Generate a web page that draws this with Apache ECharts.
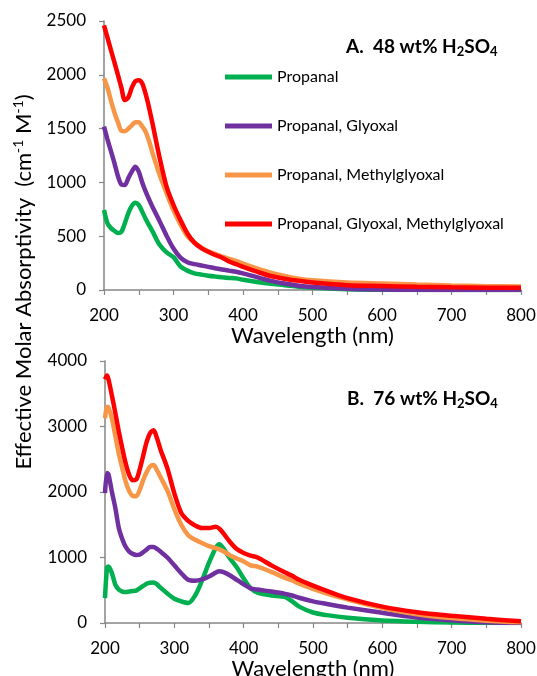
<!DOCTYPE html>
<html>
<head>
<meta charset="utf-8">
<title>Effective Molar Absorptivity</title>
<script src="https://cdn.jsdelivr.net/npm/echarts@6/dist/echarts.min.js"></script>
<style>
    html, body { margin: 0; padding: 0; background: #fff; }
    #chart { width: 537px; height: 676px; }
</style>
</head>
<body>
<div id="chart"></div>
<script>
// --- data ---
const seriesNames = ['Propanal', 'Propanal, Glyoxal', 'Propanal, Methylglyoxal', 'Propanal, Glyoxal, Methylglyoxal'];
const seriesColors = ['#00b050', '#7030a0', '#f79646', '#ff0000'];

// panel A: 48 wt% H2SO4
const wavelengthA = [200, 205, 210, 215, 220, 225, 230, 235, 240, 245, 250, 255, 260, 265, 270, 280, 290, 300, 310, 320,
    330, 340, 350, 360, 370, 380, 390, 400, 420, 440, 460, 480, 500, 550, 600, 650, 700, 750, 800];
const propanalA = [743, 620, 575, 550, 530, 540, 620, 715, 780, 810, 790, 728, 660, 600, 542, 420, 350, 305, 220, 180,
    155, 143, 133, 125, 118, 112, 108, 95, 75, 58, 45, 30, 22, 8, 2, 0, 0, 0, 0];
const glyoxalA = [1518, 1400, 1290, 1180, 1060, 980, 975, 1040, 1100, 1146, 1100, 1000, 914, 840, 770, 640, 505, 385, 300, 258,
    240, 228, 215, 202, 190, 180, 170, 155, 120, 85, 60, 40, 28, 12, 5, 2, 0, 0, 0];
const methylA = [1967, 1880, 1760, 1650, 1560, 1480, 1475, 1500, 1530, 1560, 1560, 1520, 1470, 1380, 1270, 1070, 900, 740, 610, 500,
    440, 395, 360, 335, 310, 290, 270, 245, 200, 160, 130, 105, 90, 70, 60, 50, 42, 36, 32];
const allA = [2460, 2345, 2230, 2115, 2000, 1880, 1765, 1790, 1880, 1940, 1950, 1920, 1820, 1690, 1540, 1230, 960, 790, 650, 525,
    440, 390, 355, 325, 300, 265, 240, 215, 170, 130, 105, 85, 70, 45, 37, 30, 25, 22, 20];

// panel B: 76 wt% H2SO4
const wavelengthB = [200, 203, 205, 210, 215, 220, 225, 230, 235, 240, 245, 250, 255, 260, 265, 270, 275, 280, 290, 300,
    310, 320, 330, 340, 350, 360, 365, 370, 380, 390, 400, 410, 420, 440, 460, 470, 480, 500, 520, 550,
    600, 650, 700, 750, 800];
const propanalB = [380, 850, 862, 760, 583, 510, 480, 472, 480, 488, 495, 530, 565, 600, 615, 618, 590, 540, 450, 370,
    330, 305, 420, 650, 920, 1150, 1203, 1150, 990, 850, 680, 530, 465, 420, 395, 330, 250, 160, 120, 80,
    40, 20, 8, 3, 0];
const glyoxalB = [1984, 2290, 2270, 2000, 1750, 1447, 1280, 1160, 1091, 1055, 1040, 1045, 1080, 1120, 1160, 1160, 1130, 1090, 1000, 880,
    760, 660, 645, 665, 710, 770, 790, 780, 730, 660, 590, 530, 510, 480, 445, 420, 385, 330, 290, 235,
    155, 85, 42, 12, 0];
const methylB = [3127, 3300, 3290, 3120, 2850, 2580, 2360, 2150, 2010, 1940, 1935, 2030, 2180, 2300, 2390, 2411, 2330, 2230, 2020, 1740,
    1500, 1340, 1270, 1220, 1175, 1142, 1125, 1100, 1035, 985, 940, 880, 860, 780, 690, 650, 600, 520, 450, 360,
    230, 135, 75, 35, 10];
const allB = [3720, 3780, 3720, 3470, 3200, 2920, 2665, 2430, 2260, 2180, 2190, 2340, 2550, 2760, 2900, 2944, 2820, 2650, 2360, 1980,
    1680, 1560, 1490, 1450, 1450, 1471, 1440, 1380, 1240, 1130, 1070, 1030, 1000, 880, 770, 720, 660, 570, 490, 380,
    250, 165, 110, 65, 25];

const panelA = [propanalA, glyoxalA, methylA, allA];
const panelB = [propanalB, glyoxalB, methylB, allB];

const FONT = 'Lato, "Open Sans", sans-serif';
const AXIS_GREY = '#868686';

function pairs(xs, ys) {
    return xs.map((x, i) => [x, ys[i]]);
}

function makeXAxis(gridIndex) {
    return {
        type: 'value',
        gridIndex: gridIndex,
        min: 200,
        max: 800,
        interval: 100,
        name: 'Wavelength (nm)',
        nameLocation: 'middle',
        nameGap: 31,
        nameTextStyle: { fontFamily: FONT, fontSize: 22, color: '#000' },
        axisLine: { show: true, lineStyle: { color: AXIS_GREY, width: 1.5 } },
        axisTick: { show: true, length: 5, lineStyle: { color: AXIS_GREY, width: 1.2 } },
        minorTick: { show: true, splitNumber: 2, length: 5, lineStyle: { color: AXIS_GREY, width: 1.2 } },
        axisLabel: { fontFamily: FONT, fontSize: 17, color: '#000', margin: 17, showMinLabel: true, showMaxLabel: true },
        splitLine: { show: false }
    };
}

function makeYAxis(gridIndex, max, interval) {
    return {
        type: 'value',
        gridIndex: gridIndex,
        min: 0,
        max: max,
        interval: interval,
        axisLine: { show: true, lineStyle: { color: AXIS_GREY, width: 1.5 } },
        axisTick: { show: true, length: 5, lineStyle: { color: AXIS_GREY, width: 1.2 } },
        axisLabel: { fontFamily: FONT, fontSize: 17, color: '#000', margin: 18, formatter: v => String(v) },
        splitLine: { show: false }
    };
}

function makeSeries(values, xs, gridIndex) {
    return values.map((ys, i) => ({
        name: seriesNames[i],
        type: 'line',
        xAxisIndex: gridIndex,
        yAxisIndex: gridIndex,
        data: pairs(xs, ys),
        smooth: 0.3,
        showSymbol: false,
        symbol: 'none',
        lineStyle: { color: seriesColors[i], width: 4.5 },
        itemStyle: { color: seriesColors[i] },
        z: 2 + i
    }));
}

function panelTitle(letter, pct, x, y) {
    return {
        type: 'text',
        left: x,
        top: y,
        style: {
            text: `{b|${letter}.  ${pct} wt% H}{s|2}{b|SO}{s|4}`,
            rich: {
                b: { fontFamily: FONT, fontSize: 19, fontWeight: 'bold', color: '#000', lineHeight: 24 },
                s: { fontFamily: FONT, fontSize: 13, fontWeight: 'bold', color: '#000', lineHeight: 13, verticalAlign: 'bottom' }
            }
        }
    };
}

const chart = echarts.init(document.getElementById('chart'), null, { renderer: 'canvas' });

const option = {
    animation: false,
    backgroundColor: '#fff',
    color: seriesColors,
    grid: [
        { left: 104, right: 16, top: 21, height: 269, containLabel: false, outerBoundsMode: 'none' },
        { left: 105, right: 16, top: 361, height: 262, containLabel: false, outerBoundsMode: 'none' }
    ],
    xAxis: [makeXAxis(0), makeXAxis(1)],
    yAxis: [makeYAxis(0, 2500, 500), makeYAxis(1, 4000, 1000)],
    legend: {
        data: seriesNames,
        orient: 'vertical',
        left: 220,
        top: 64,
        icon: 'rect',
        itemWidth: 47,
        itemHeight: 5,
        itemGap: 33,
        textStyle: { fontFamily: FONT, fontSize: 16, color: '#000', lineHeight: 16 }
    },
    graphic: [
        panelTitle('A', '48', 346, 37),
        panelTitle('B', '76', 347, 389),
        {
            // shared y axis title
            type: 'text',
            x: 24,
            y: 282,
            rotation: Math.PI / 2,
            style: {
                text: '{t|Effective Molar Absorptivity  (cm}{u|-1}{t| M}{u|-1}{t|)}',
                align: 'center',
                verticalAlign: 'middle',
                rich: {
                    t: { fontFamily: FONT, fontSize: 22, color: '#000', lineHeight: 26 },
                    u: { fontFamily: FONT, fontSize: 14, color: '#000', lineHeight: 14, verticalAlign: 'top' }
                }
            }
        }
    ],
    series: makeSeries(panelA, wavelengthA, 0).concat(makeSeries(panelB, wavelengthB, 1))
};

chart.setOption(option);
</script>
</body>
</html>
